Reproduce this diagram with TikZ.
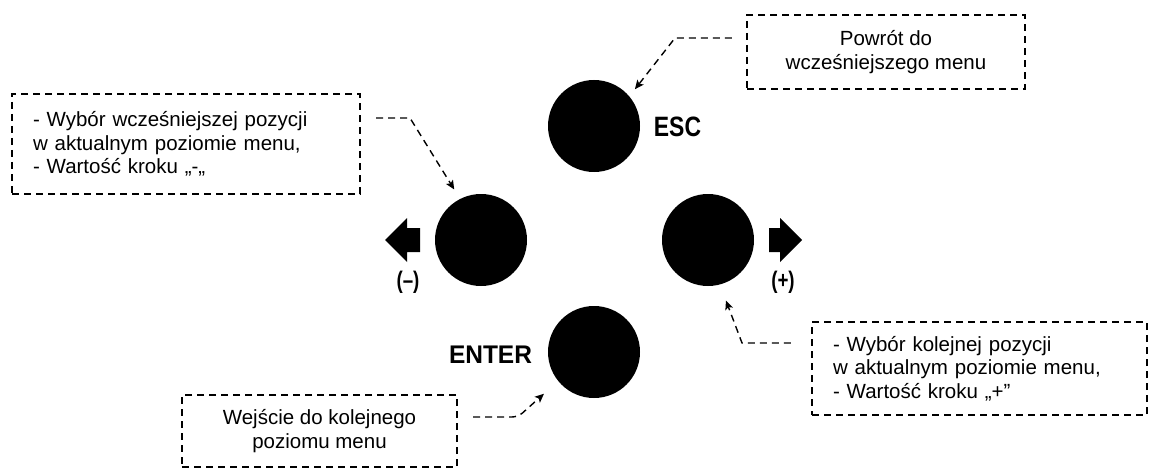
\documentclass[tikz,border=0pt]{standalone}
\usepackage{fontspec}
\usepackage{graphicx}
\setmainfont{Liberation Sans}
\usetikzlibrary{arrows.meta}
\begin{document}
\begin{tikzpicture}[x=1pt,y=-1pt,
  button/.style={circle,fill=black,minimum size=92pt,inner sep=0pt},
  infobox/.style={draw,line width=2.1pt,dash pattern=on 7pt off 5pt,
    inner ysep=0pt,font=\fontsize{20.5}{23.5}\selectfont},
  link/.style={line width=1.4pt,dash pattern=on 7pt off 5pt,
    -{Stealth[length=9pt,width=8pt,inset=2pt]}},
  keyname/.style={inner sep=0pt,font=\bfseries\fontsize{28}{28}\selectfont},
  sign/.style={inner sep=0pt,font=\bfseries\fontsize{24}{24}\selectfont},
  pointer/.style={fill=black}]
\clip (0,0) rectangle (1151,468);

% the four keys
\node[button] (esc)   at (594,126) {};
\node[button] (minus) at (481,240) {};
\node[button] (plus)  at (708,240) {};
\node[button] (enter) at (594,352) {};

% key captions
\node[keyname] (esclabel) at (677.5,127) {\scalebox{0.82}[1]{ESC}};
\node[keyname,font=\bfseries\fontsize{25.5}{25.5}\selectfont] (enterlabel) at (490.5,355) {\scalebox{0.96}[1]{ENTER}};

% direction pointers next to the side keys
\fill[pointer] (385,240) -- (407,218) -- (407,228) -- (420,228)
  -- (420,252) -- (407,252) -- (407,262) -- cycle;
\fill[pointer] (802,240) -- (780,218) -- (780,228) -- (769,228)
  -- (769,252) -- (780,252) -- (780,262) -- cycle;
\node[sign] (minussign) at (408,282) {\scalebox{0.78}[1]{(--)}};
\node[sign] (plussign)  at (783,282) {\scalebox{0.78}[1]{(+)}};

% description boxes
\node[infobox,minimum width=278pt,minimum height=74pt,align=center]
  (escbox) at (886,52) {Powrót do\\wcześniejszego menu};
\node[infobox,minimum width=348pt,minimum height=100pt,text width=306pt,
  inner xsep=21pt,align=left]
  (minusbox) at (186,144) {- Wybór wcześniejszej pozycji\\w aktualnym poziomie menu,\\- Wartość kroku „-„};
\node[infobox,minimum width=335pt,minimum height=93pt,text width=293pt,
  inner xsep=21pt,align=left]
  (plusbox) at (979.5,368.5) {- Wybór kolejnej pozycji\\w aktualnym poziomie menu,\\- Wartość kroku „+”};
\node[infobox,minimum width=275pt,minimum height=72pt,align=center]
  (enterbox) at (319.5,431) {Wejście do kolejnego\\poziomu menu};
\draw[line width=2.1pt,dash pattern=on 7pt off 5pt]
  (enterbox.south west) -- ++(0,12) (enterbox.south east) -- ++(0,12);

% bends of the pointer lines
\coordinate (escbend)   at (675,38);
\coordinate (minusbend) at (410,118);
\coordinate (plusbend)  at (742,343);
\coordinate (enterbend) at (518,417);

% pointer lines from the boxes to the keys
\draw[link,shorten >=9pt] ([xshift=-14pt,yshift=14pt]escbox.west)
  -- (escbend) -- (esc.40);
\draw[link,shorten >=11pt] ([xshift=15pt,yshift=26pt]minusbox.east)
  -- (minusbend) -- (minus.117);
\draw[link,shorten >=17pt] ([xshift=-20pt,yshift=25.5pt]plusbox.west)
  -- (plusbend) -- (plus.-75);
\draw[link,shorten >=19pt,rounded corners=6pt] ([xshift=15pt,yshift=14pt]enterbox.east)
  -- (enterbend) -- (enter.-141);
\end{tikzpicture}
\end{document}
